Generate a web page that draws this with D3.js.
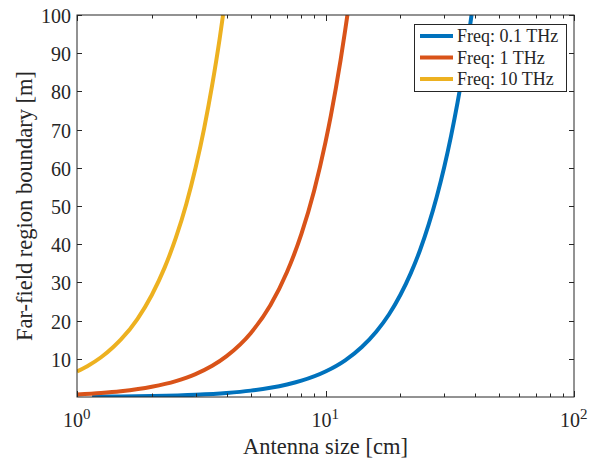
<!DOCTYPE html>
<html><head><meta charset="utf-8">
<script src="https://cdn.jsdelivr.net/npm/d3@7"></script>
<style>body{margin:0;background:#fff}svg{display:block}text{font-family:"Liberation Serif","Times New Roman",serif;fill:#262626}</style>
</head><body>
<svg id="c" width="597" height="462"></svg>
<script>
// Data (antenna size in cm, boundary in m)
const xBlue = [1.15, 1.5, 2, 3, 4, 5, 6, 7, 8, 10, 12, 14, 16, 18, 20, 22, 24, 26, 28, 30, 32, 34, 35, 36, 37, 38, 38.7];
const yBlue = [0.09, 0.15, 0.27, 0.6, 1.07, 1.67, 2.4, 3.27, 4.27, 6.67, 9.6, 13.1, 17.1, 21.6, 26.7, 32.3, 38.4, 45.1, 52.3, 60.0, 68.3, 77.1, 81.7, 86.4, 91.3, 96.3, 100];
const xRed = [1, 1.25, 1.5, 2, 2.5, 3, 3.5, 4, 5, 6, 7, 8, 9, 10, 10.5, 11, 11.5, 12, 12.25];
const yRed = [0.67, 1.04, 1.5, 2.67, 4.17, 6.0, 8.17, 10.7, 16.7, 24.0, 32.7, 42.7, 54.0, 66.7, 73.5, 80.7, 88.2, 96.0, 100];
const xYellow = [1, 1.1, 1.25, 1.4, 1.5, 1.75, 2, 2.25, 2.5, 2.75, 3, 3.25, 3.5, 3.75, 3.87];
const yYellow = [6.67, 8.07, 10.4, 13.1, 15.0, 20.4, 26.7, 33.8, 41.7, 50.4, 60.0, 70.4, 81.7, 93.8, 100];
const seriesNames = ["Freq: 0.1 THz", "Freq: 1 THz", "Freq: 10 THz"];
const colors = ["#0072BD", "#D95319", "#EDB120"];
const yTicks = [10, 20, 30, 40, 50, 60, 70, 80, 90, 100];
const xMajor = [1, 10, 100];
const xExp = ["0", "1", "2"];

const svg = d3.select("#c");
const L = 77, R = 574, T = 15, B = 397;
const x = d3.scaleLog().domain([1, 100]).range([L, R]);
const y = d3.scaleLinear().domain([0, 100]).range([B, T]);
const axc = "#262626";

svg.append("defs").append("clipPath").attr("id", "clip")
  .append("rect").attr("x", L).attr("y", T).attr("width", R - L).attr("height", B - T);

// lines
const line = d3.line().x(d => x(d[0])).y(d => y(d[1])).curve(d3.curveMonotoneX);
const sets = [[xBlue, yBlue], [xRed, yRed], [xYellow, yYellow]];
const g = svg.append("g").attr("clip-path", "url(#clip)");
sets.forEach((s, i) => {
  g.append("path").datum(s[0].map((v, k) => [v, s[1][k]]))
    .attr("d", line).attr("fill", "none").attr("stroke", colors[i]).attr("stroke-width", 4);
});

// box
svg.append("rect").attr("x", L).attr("y", T).attr("width", R - L).attr("height", B - T)
  .attr("fill", "none").attr("stroke", axc).attr("stroke-width", 1);

// y ticks
const tl = 5;
yTicks.forEach(t => {
  const yy = Math.round(y(t)) + 0.5;
  svg.append("line").attr("x1", L).attr("x2", L + tl).attr("y1", yy).attr("y2", yy).attr("stroke", axc);
  svg.append("line").attr("x1", R - tl).attr("x2", R).attr("y1", yy).attr("y2", yy).attr("stroke", axc);
  svg.append("text").attr("x", L - 6).attr("y", yy + 7).attr("text-anchor", "end")
    .attr("font-size", 20).text(t);
});

// x ticks (major + minor)
const xAll = [];
[1, 10].forEach(d => { for (let k = 1; k <= 9; k++) xAll.push(d * k); });
xAll.push(100);
xAll.forEach(t => {
  const xx = Math.round(x(t)) + 0.5;
  const len = xMajor.includes(t) ? 6 : 3.5;
  svg.append("line").attr("x1", xx).attr("x2", xx).attr("y1", B).attr("y2", B - len).attr("stroke", axc);
  svg.append("line").attr("x1", xx).attr("x2", xx).attr("y1", T).attr("y2", T + len).attr("stroke", axc);
});
xMajor.forEach((t, i) => {
  const tx = svg.append("text").attr("x", x(t) - 14).attr("y", 427).attr("font-size", 20);
  tx.append("tspan").text("10");
  tx.append("tspan").attr("font-size", 15).attr("dy", -8).text(xExp[i]);
});

// axis titles
svg.append("text").attr("x", (L + R) / 2).attr("y", 454).attr("text-anchor", "middle")
  .attr("font-size", 22.5).text("Antenna size [cm]");
svg.append("text").attr("transform", "translate(32," + ((T + B) / 2) + ") rotate(-90)")
  .attr("text-anchor", "middle").attr("font-size", 22.5).text("Far-field region boundary [m]");

// legend
const lg = svg.append("g");
lg.append("rect").attr("x", 414.5).attr("y", 24.5).attr("width", 152).attr("height", 67)
  .attr("fill", "#fff").attr("stroke", axc).attr("stroke-width", 1);
seriesNames.forEach((n, i) => {
  const ly = 36 + i * 21.5;
  lg.append("line").attr("x1", 420).attr("x2", 453).attr("y1", ly).attr("y2", ly)
    .attr("stroke", colors[i]).attr("stroke-width", 4);
  lg.append("text").attr("x", 457).attr("y", ly + 6).attr("font-size", 18).text(n);
});
</script>
</body></html>
